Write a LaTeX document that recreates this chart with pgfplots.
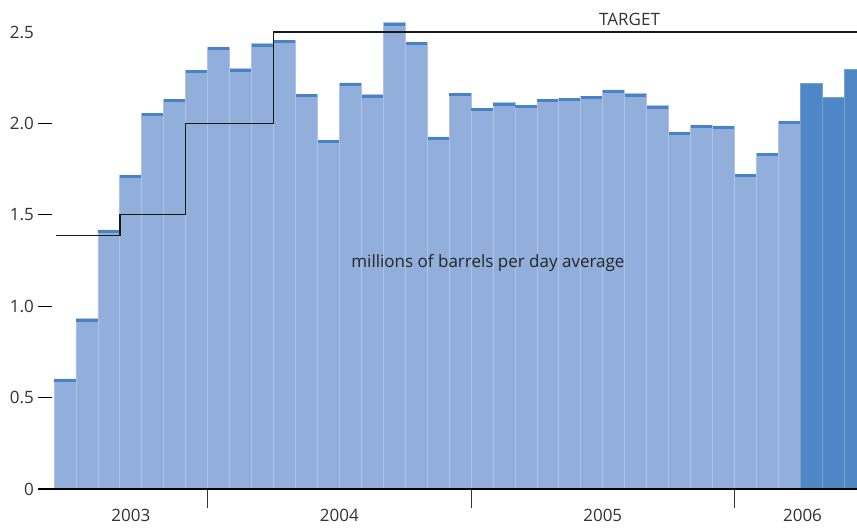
\documentclass[border=0pt]{standalone}
\usepackage{pgfplots}
\pgfplotsset{compat=1.18}
\usepackage{pgfplotstable}
\usepackage{fontspec}
\setmainfont{Open Sans}
\definecolor{lightbar}{RGB}{146,174,218}
\definecolor{sepcol}{RGB}{172,194,230}
\definecolor{darkbar}{RGB}{79,134,198}
\definecolor{darksep}{RGB}{120,162,212}
\definecolor{capcol}{RGB}{74,130,198}
\definecolor{txt}{RGB}{51,51,51}

\pgfplotstableread{
x y
0 0.602
1 0.932
2 1.417
3 1.718
4 2.055
5 2.133
6 2.290
7 2.418
8 2.300
9 2.436
10 2.456
11 2.159
12 1.908
13 2.221
14 2.157
15 2.551
16 2.445
17 1.926
18 2.166
19 2.084
20 2.113
21 2.100
22 2.132
23 2.137
24 2.148
25 2.183
26 2.163
27 2.097
28 1.953
29 1.991
30 1.986
31 1.723
32 1.836
33 2.011
}\lightdata

\pgfplotstableread{
x y
34 2.219
35 2.144
36 2.294
}\darkdata

\pgfplotstableread{
x y
-0.41 1.385
2.5 1.5
5.5 2.0
9.5 2.5
36.083 2.5
}\target

\begin{document}
\begin{tikzpicture}
\useasboundingbox (0,0) rectangle (857pt,529pt);
\begin{axis}[
  at={(38pt,40pt)}, anchor=south west,
  scale only axis, width=819pt, height=489pt,
  xmin=-1.229, xmax=36.083, ymin=0, ymax=2.675,
  clip=false,
  axis line style={draw=none},
  xtick pos=bottom, ytick pos=left,
  major tick length=14pt,
  xtick={3,12.5,24.5,33.6},
  xticklabels={2003,2004,2005,2006},
  major x tick style={draw=none},
  minor xtick={6.5,18.5,30.5},
  minor tick length=19pt,
  xtick align=outside,
  minor x tick style={draw=txt, line width=1pt},
  ytick={0,0.5,1,1.5,2},
  yticklabels={0,0.5,1.0,1.5,2.0},
  ytick align=inside,
  major y tick style={draw=black, line width=1.3pt},
  extra y ticks={2.5},
  extra y tick labels={2.5},
  extra y tick style={major tick length=0pt},
  tick label style={font=\fontsize{17}{20}\selectfont, text=txt},
  yticklabel style={inner sep=0pt, anchor=east, xshift=-4pt},
  xticklabel style={inner sep=0pt, anchor=base, yshift=-19pt},
]
\addplot[ybar, bar width=1, bar shift=0pt, fill=lightbar, draw=sepcol, line width=0.8pt] table {\lightdata};
\addplot[ybar, bar width=1, bar shift=0pt, fill=darkbar, draw=darksep, line width=0.8pt] table {\darkdata};
\addplot[only marks, mark=-, mark size=10.6pt, mark options={draw=capcol, line width=3pt, yshift=-1.5pt}] table {\lightdata};
\addplot[const plot, draw=black!90, line width=1.3pt, mark=none] table {\target};
\draw[line width=2.6pt, black] (axis cs:-1.229,0) -- (axis cs:36.083,0);
\node[anchor=base, text=black!85, font=\fontsize{17}{20}\selectfont] at (axis cs:19.27,1.213) {millions of barrels per day average};
\node[anchor=base, text=txt, font=\fontsize{17}{20}\selectfont] at (axis cs:25.72,2.534) {TARGET};
\end{axis}
\end{tikzpicture}
\end{document}
